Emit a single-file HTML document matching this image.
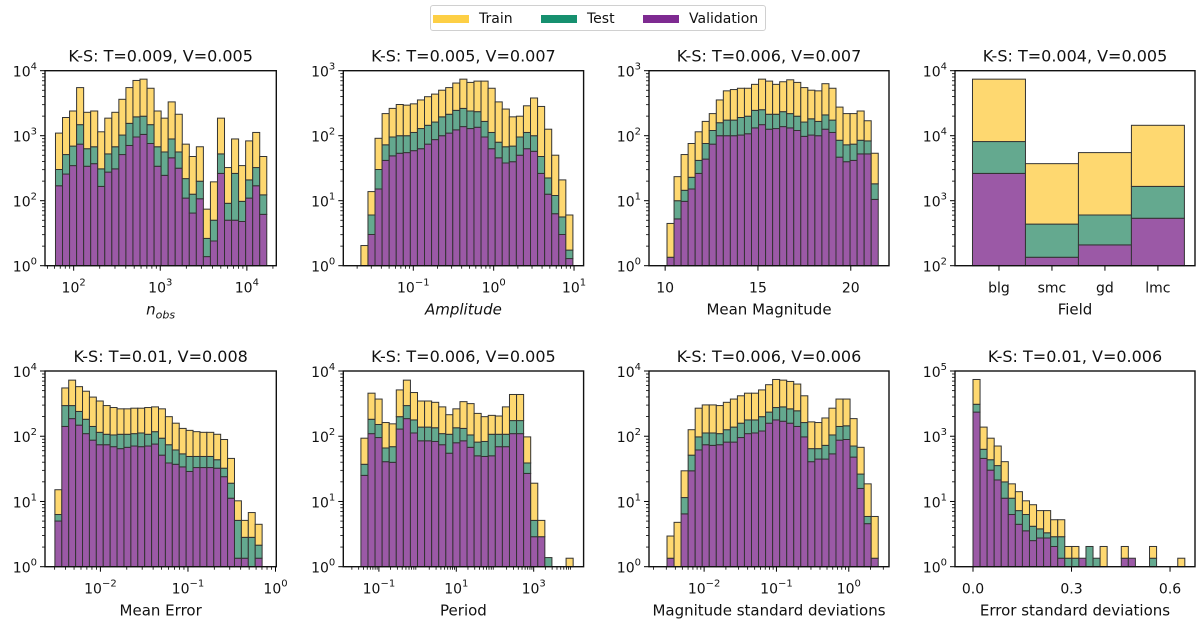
<!DOCTYPE html>
<html><head><meta charset="utf-8">
<style>
html,body{margin:0;padding:0;background:#fff;}
body{width:1200px;height:622px;overflow:hidden;position:relative;font-family:"DejaVu Sans","Liberation Sans",sans-serif;}
#legend{position:absolute;left:430px;top:5px;width:336px;height:26px;border:1px solid #d0d0d0;border-radius:3px;box-sizing:border-box;background:#fff;font-size:14px;color:#111;}
.li{position:absolute;top:4px;height:18px;line-height:18px;}
.sw{position:absolute;top:5px;width:36px;height:8px;}
</style></head>
<body>
<div id="legend">
  <div class="li" style="left:2px"><span class="sw" style="left:0;background:#fdcf45"></span><span style="position:absolute;left:46px">Train</span></div>
  <div class="li" style="left:110px"><span class="sw" style="left:0;background:#16906f"></span><span style="position:absolute;left:46px">Test</span></div>
  <div class="li" style="left:212px"><span class="sw" style="left:0;background:#7e2a91"></span><span style="position:absolute;left:46px;white-space:nowrap">Validation</span></div>
</div>
<svg id="chart" width="1200" height="622" xmlns="http://www.w3.org/2000/svg" style="position:absolute;left:0;top:0"></svg>
<script>
// ---- data (log10 of stacked bar tops) ----
const p1Train=[3.04,3.28,3.38,3.74,3.36,3.38,3.06,3.27,3.36,3.56,3.74,3.85,3.87,3.73,3.38,3.27,3.52,3.33,2.87,2.68,2.83,1.87,2.29,3.27,2.51,2.95,2.54,2.92,3.05,2.68];
const p1Test=[2.48,2.71,2.84,3.17,2.80,2.83,2.49,2.72,2.83,3.01,3.19,3.29,3.30,3.17,2.83,2.75,2.95,2.75,2.34,2.10,2.30,1.42,1.70,2.72,1.96,2.42,1.99,2.32,2.51,2.09];
const p1Val=[2.23,2.41,2.54,2.87,2.53,2.57,2.22,2.44,2.49,2.71,2.85,2.98,3.02,2.88,2.53,2.39,2.66,2.50,2.04,1.81,2.03,1.14,1.38,2.42,1.70,1.70,1.68,2.04,2.23,1.79];
const p2Train=[0.31,1.14,1.96,2.34,2.42,2.48,2.47,2.49,2.55,2.60,2.64,2.70,2.74,2.81,2.87,2.82,2.84,2.84,2.73,2.52,2.41,2.29,2.30,2.46,2.58,2.45,2.10,1.70,1.32,0.78];
const p2Test=[0,0.78,1.48,1.86,1.98,2.00,2.00,2.05,2.11,2.16,2.21,2.29,2.33,2.39,2.42,2.38,2.37,2.22,2.05,1.90,1.83,1.84,1.98,2.05,2.00,1.68,1.35,1.08,0.75,0.24];
const p2Val=[0,0.48,1.18,1.62,1.69,1.73,1.74,1.77,1.80,1.87,1.94,2.00,2.04,2.09,2.14,2.11,2.13,1.98,1.80,1.66,1.58,1.60,1.70,1.80,1.76,1.42,1.10,0.80,0.48,0.11];
const p3Train=[0.65,1.37,1.71,1.88,2.06,2.22,2.34,2.55,2.69,2.71,2.73,2.73,2.79,2.87,2.84,2.79,2.83,2.86,2.82,2.74,2.70,2.69,2.80,2.73,2.44,2.34,2.34,2.38,2.23,1.73];
const p3Test=[0.13,1.00,1.16,1.36,1.62,1.88,2.08,2.20,2.24,2.24,2.28,2.30,2.39,2.40,2.33,2.33,2.37,2.34,2.30,2.21,2.26,2.22,2.32,2.24,1.93,1.86,1.87,1.93,1.92,1.26];
const p3Val=[0.13,0.72,0.99,1.18,1.42,1.64,1.87,2.00,2.00,2.00,2.01,2.03,2.12,2.17,2.10,2.11,2.14,2.12,2.08,1.99,2.01,2.00,2.10,2.05,1.67,1.60,1.62,1.72,1.72,1.02];
const fieldCategories=['blg','smc','gd','lmc'];
const p4Train=[4.87,3.57,3.74,4.16];
const p4Test=[3.91,2.64,2.78,3.22];
const p4Val=[3.42,2.13,2.32,2.73];
const p5Train=[1.18,2.74,2.86,2.76,2.69,2.60,2.54,2.47,2.44,2.42,2.42,2.43,2.43,2.44,2.45,2.42,2.30,2.20,2.12,2.09,2.07,2.06,2.06,2.03,1.95,1.66,1.01,0.71,0.83,0.65];
const p5Test=[0.80,2.47,2.47,2.38,2.26,2.15,2.06,2.03,2.02,2.03,2.03,2.04,2.05,2.03,2.07,1.97,1.87,1.79,1.73,1.69,1.69,1.69,1.69,1.64,1.51,1.28,0.71,0.45,0.45,0.33];
const p5Val=[0.70,2.15,2.27,2.17,2.04,1.94,1.87,1.87,1.84,1.81,1.83,1.85,1.84,1.85,1.88,1.71,1.59,1.57,1.53,1.46,1.52,1.52,1.52,1.51,1.38,1.05,0.13,0.13,0,0.13];
const p6Train=[1.97,2.66,2.57,2.21,2.19,2.71,2.86,2.67,2.54,2.54,2.52,2.45,2.33,2.42,2.53,2.50,2.35,2.30,2.32,2.31,2.45,2.64,2.64,1.99,1.28,0.71,0.14,0,0,0.13];
const p6Test=[1.57,2.26,2.18,1.82,1.84,2.30,2.47,2.25,2.14,2.14,2.13,2.04,2.03,2.13,2.12,2.02,1.91,1.92,2.03,2.03,2.03,2.24,2.24,1.59,0.71,0.46,0.14,0,0,0];
const p6Val=[1.40,2.04,1.98,1.61,1.60,2.11,2.27,2.05,1.93,1.93,1.92,1.87,1.74,1.90,1.93,1.83,1.70,1.69,1.70,1.84,1.84,2.04,2.04,1.43,0.46,0.46,0,0,0,0];
const p7Train=[0.47,0.68,1.47,2.10,2.43,2.48,2.48,2.47,2.52,2.57,2.62,2.66,2.66,2.71,2.79,2.87,2.86,2.84,2.80,2.62,2.22,2.21,2.28,2.43,2.57,2.57,2.27,1.83,1.27,0.77];
const p7Test=[0.13,0,1.06,1.71,1.99,2.05,2.05,2.04,2.10,2.14,2.20,2.25,2.25,2.30,2.37,2.44,2.45,2.42,2.39,2.21,1.81,1.81,1.86,2.02,2.15,2.16,1.85,1.42,0.77,0.13];
const p7Val=[0.13,0,0.81,1.47,1.79,1.87,1.86,1.87,1.91,1.91,1.98,2.04,2.05,2.08,2.20,2.25,2.23,2.20,2.15,1.99,1.61,1.65,1.65,1.73,1.94,1.95,1.68,1.20,0.66,0.13];
const p8Train=[2.87,2.14,1.97,1.85,1.61,1.27,1.15,1.01,0.95,0.86,0.86,0.72,0.72,0.31,0.31,0.13,0.31,0.13,0.31,0,0,0.31,0.13,0,0,0.31,0,0,0,0.13];
const p8Test=[2.49,1.80,1.64,1.55,1.30,1.05,0.86,0.80,0.62,0.58,0.52,0.46,0.46,0.13,0.13,0.13,0.31,0.13,0,0,0,0.13,0.13,0,0,0.13,0,0,0,0];
const p8Val=[2.37,1.66,1.48,1.33,1.05,0.80,0.65,0.55,0.40,0.44,0.44,0.31,0.13,0,0,0.13,0,0,0,0,0,0.13,0.13,0,0,0,0,0,0,0];
const titles=['K-S: T=0.009, V=0.005','K-S: T=0.005, V=0.007','K-S: T=0.006, V=0.007','K-S: T=0.004, V=0.005','K-S: T=0.01, V=0.008','K-S: T=0.006, V=0.005','K-S: T=0.006, V=0.006','K-S: T=0.01, V=0.006'];
const yTickExps=[['0','2','3','4'],['0','1','2','3'],['0','1','2','3'],['2','3','4','4'],['0','1','2','4'],['0','1','2','4'],['0','1','2','4'],['0','1','3','5']];

const NS='http://www.w3.org/2000/svg';
const svg=document.getElementById('chart');
function mk(tag,attrs,parent){const e=document.createElementNS(NS,tag);for(const k in attrs)e.setAttribute(k,attrs[k]);parent.appendChild(e);return e;}
const R1=[70.7,265.7],R2=[371,566.7];
const COLS=[[45,276.3],[343.3,583.6],[649,889],[955,1195]];
const panels=[
 {id:'nobs',col:0,row:R1,xType:'log',xDom:[1.669,4.34],bins:[1.79,4.23],xTicks:[2,3,4],xLab:['2','3','4'],yDom:[1,4],tr:p1Train,te:p1Test,va:p1Val,xlabel:'nobs'},
 {id:'amplitude',col:1,row:R1,xType:'log',xDom:[-1.871,1.119],bins:[-1.652,0.986],xTicks:[-1,0,1],xLab:['−1','0','1'],yDom:[0,3],tr:p2Train,te:p2Test,va:p2Val,xlabel:'Amplitude',italic:true},
 {id:'mean-magnitude',col:2,row:R1,xType:'lin',xDom:[9.13,22.06],bins:[10.1,21.48],xTicks:[10,15,20],xLab:['10','15','20'],yDom:[0,3],tr:p3Train,te:p3Test,va:p3Val,xlabel:'Mean Magnitude'},
 {id:'field',col:3,row:R1,xType:'cat',xDom:[-0.83,3.70],xTicks:[0,1,2,3],xLab:fieldCategories,yDom:[2,5],tr:p4Train,te:p4Test,va:p4Val,xlabel:'Field'},
 {id:'mean-error',col:0,row:R2,xType:'log',xDom:[-2.633,0.009],bins:[-2.52,-0.153],xTicks:[-2,-1,0],xLab:['−2','−1','0'],yDom:[0,3],tr:p5Train,te:p5Test,va:p5Val,xlabel:'Mean Error'},
 {id:'period',col:1,row:R2,xType:'log',xDom:[-1.92,4.29],bins:[-1.465,4.02],xTicks:[-1,1,3],xLab:['−1','1','3'],yDom:[0,3],tr:p6Train,te:p6Test,va:p6Val,xlabel:'Period'},
 {id:'magnitude-std',col:2,row:R2,xType:'log',xDom:[-2.762,0.556],bins:[-2.513,0.407],xTicks:[-2,-1,0],xLab:['−2','−1','0'],yDom:[0,3],tr:p7Train,te:p7Test,va:p7Val,xlabel:'Magnitude standard deviations'},
 {id:'error-std',col:3,row:R2,xType:'lin',xDom:[-0.0548,0.676],bins:[0,0.645],xTicks:[0,0.3,0.6],xLab:['0.0','0.3','0.6'],yDom:[0,3],tr:p8Train,te:p8Test,va:p8Val,xlabel:'Error standard deviations'}
];
const FILL={va:'#9b59a6',te:'#64a98f',tr:'#fed870'};
panels.forEach((p,pi)=>{
  const x0=COLS[p.col][0],x1=COLS[p.col][1],y0=p.row[0],y1=p.row[1];
  const g=mk('g',{},svg);
  
  
  const xs=v=>x0+(v-p.xDom[0])/(p.xDom[1]-p.xDom[0])*(x1-x0);
  const ys=v=>y1-(v-p.yDom[0])/(p.yDom[1]-p.yDom[0])*(y1-y0);
  const n=p.tr.length;
  for(let i=0;i<n;i++){
    let a,b;
    if(p.xType==='cat'){a=i-0.5;b=i+0.5;}else{const w=(p.bins[1]-p.bins[0])/n;a=p.bins[0]+i*w;b=a+w;}
    const layers=[['va',p.yDom[0],p.va[i]],['te',p.va[i],p.te[i]],['tr',p.te[i],p.tr[i]]];
    layers.forEach(L=>{
      const bot=Math.max(L[1],p.yDom[0]),top=L[2];
      if(top>bot+1e-9){
        const r=mk('rect',{x:xs(a),y:ys(top),width:xs(b)-xs(a),height:ys(bot)-ys(top),fill:FILL[L[0]],stroke:'#333','stroke-width':1},g);
        
        
      }
    });
  }
  for(let d=p.yDom[0],j=0;d<=p.yDom[1]+1e-9;d++,j++){
    const y=ys(d);
    mk('line',{x1:x0-5,x2:x0,y1:y,y2:y,stroke:'#000','stroke-width':1},g);
    const t=mk('text',{x:x0-8,y:y+6,'text-anchor':'end','font-size':14,fill:'#111'},g);
    
    
    t.textContent='10';
    const s=mk('tspan',{dy:-7,'font-size':10},t);s.textContent=yTickExps[pi][j];
    if(d<p.yDom[1]-1e-9){for(let k=2;k<10;k++){const yy=ys(d+Math.log10(k));mk('line',{x1:x0-3,x2:x0,y1:yy,y2:yy,stroke:'#000','stroke-width':0.8},g);}}
  }
  p.xTicks.forEach((v,j)=>{
    const x=xs(v);
    mk('line',{x1:x,x2:x,y1:y1,y2:y1+5,stroke:'#000','stroke-width':1},g);
    const t=mk('text',{x:x,y:y1+27,'text-anchor':'middle','font-size':14,fill:'#111'},g);
    
    
    if(p.xType==='log'){t.textContent='10';const s=mk('tspan',{dy:-7,'font-size':10},t);s.textContent=p.xLab[j];}
    else t.textContent=p.xLab[j];
  });
  if(p.xType==='log'){
    for(let d=Math.floor(p.xDom[0]);d<p.xDom[1];d++){for(let k=2;k<10;k++){const v=d+Math.log10(k);if(v>p.xDom[0]&&v<p.xDom[1]){const x=xs(v);mk('line',{x1:x,x2:x,y1:y1,y2:y1+3,stroke:'#000','stroke-width':0.8},g);}}}
  }
  const f=mk('rect',{x:x0,y:y0,width:x1-x0,height:y1-y0,fill:'none',stroke:'#111','stroke-width':1.4},g);
  
  
  const tt=mk('text',{x:(x0+x1)/2,y:y0-9,'text-anchor':'middle','font-size':16,fill:'#111'},g);
  
  
  tt.textContent=titles[pi];
  const xl=mk('text',{x:(x0+x1)/2,y:y1+49,'text-anchor':'middle','font-size':15,fill:'#111'},g);
  
  
  if(p.xlabel==='nobs'){xl.setAttribute('font-style','italic');xl.textContent='n';const s=mk('tspan',{dy:4,'font-size':11},xl);s.textContent='obs';}
  else{xl.textContent=p.xlabel;if(p.italic)xl.setAttribute('font-style','italic');}
});
</script>
</body></html>
